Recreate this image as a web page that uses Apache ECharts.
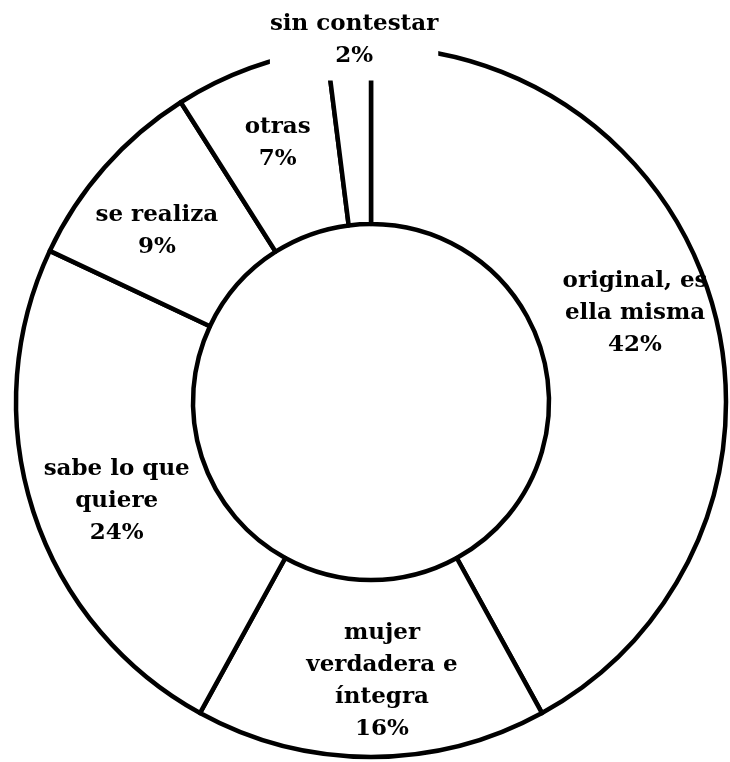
<!DOCTYPE html>
<html>
<head>
<meta charset="utf-8">
<script src="https://cdn.jsdelivr.net/npm/echarts@6/dist/echarts.min.js"></script>
<style>
  html, body { margin: 0; padding: 0; background: #fff; }
  #chart { width: 730px; height: 762px; }
</style>
</head>
<body>
<div id="chart"></div>
<script>
// categorias y porcentajes, en sentido horario desde las 12
var categories = ['original, es\nella misma', 'mujer\nverdadera e\níntegra', 'sabe lo que\nquiere', 'se realiza', 'otras', 'sin contestar'];
var values = [42, 16, 24, 9, 7, 2];

// desplazamiento de cada etiqueta respecto a su posicion "inside"
var labelShift = [[3, -22], [11, 10], [2, 16], [-12, 7], [-2, -5], [0, -93]];

var chart = echarts.init(document.getElementById('chart'));

var data = categories.map(function (name, i) {
  var item = { name: name, value: values[i] };
  if (i === categories.length - 1) {
    // la etiqueta de "sin contestar" tapa el borde exterior
    item.label = { backgroundColor: '#fff', padding: [14, 0, 3, 0] };
  }
  return item;
});

chart.setOption({
  backgroundColor: '#fff',
  animation: false,
  series: [{
    type: 'pie',
    center: [371, 402],
    radius: [178, 355],
    startAngle: 90,
    clockwise: true,
    avoidLabelOverlap: false,
    itemStyle: {
      color: '#fff',
      borderColor: '#000',
      borderWidth: 4.5
    },
    label: {
      show: true,
      position: 'inside',
      formatter: '{b}\n{c}%',
      color: '#000',
      fontFamily: 'DejaVu Serif',
      fontWeight: 'bold',
      fontSize: 23,
      lineHeight: 32,
      align: 'center'
    },
    labelLine: { show: false },
    emphasis: { disabled: true },
    labelLayout: function (params) {
      var s = labelShift[params.dataIndex];
      return { dx: s[0], dy: s[1] };
    },
    data: data
  }]
});
</script>
</body>
</html>
